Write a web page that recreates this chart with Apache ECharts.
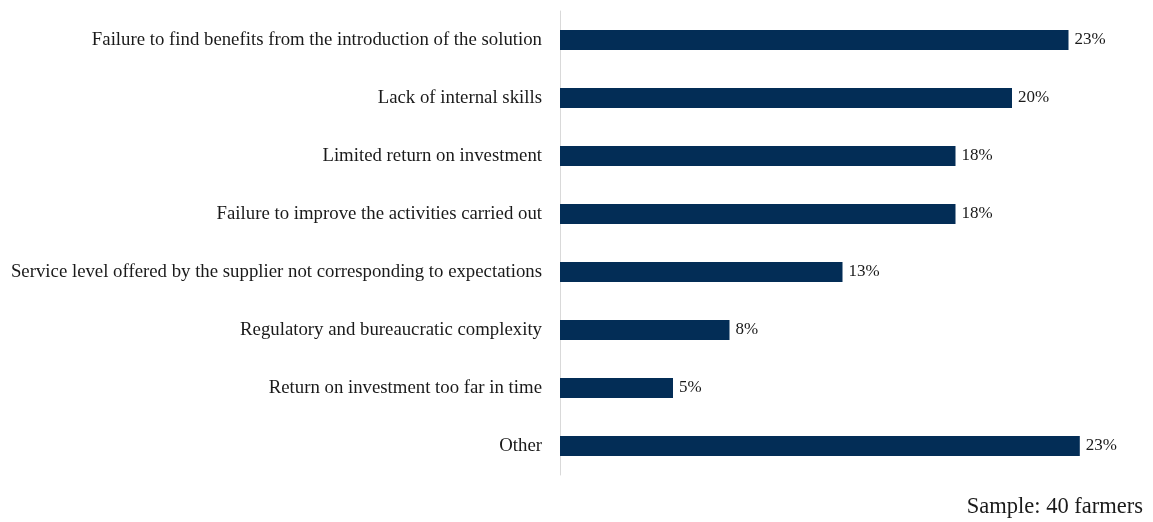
<!DOCTYPE html>
<html>
<head>
<meta charset="utf-8">
<script src="https://cdn.jsdelivr.net/npm/echarts@6/dist/echarts.min.js"></script>
<style>
  html, body { margin: 0; padding: 0; background: #fff; }
  #chart { width: 1153px; height: 522px; }
</style>
</head>
<body>
<div id="chart"></div>
<script>
// Reasons for abandoning the solution (share of respondents, %)
const categories = [
  'Failure to find benefits from the introduction of the solution',
  'Lack of internal skills',
  'Limited return on investment',
  'Failure to improve the activities carried out',
  'Service level offered by the supplier not corresponding to expectations',
  'Regulatory and bureaucratic complexity',
  'Return on investment too far in time',
  'Other'
];
const shares = [22.5, 20, 17.5, 17.5, 12.5, 7.5, 5, 23];
const sampleNote = 'Sample: 40 farmers';

const FONT = '"Liberation Serif", "DejaVu Serif", serif';

const chart = echarts.init(document.getElementById('chart'));
chart.setOption({
  animation: false,
  grid: { left: 560, right: 28, top: 11, bottom: 47, containLabel: false },
  xAxis: {
    type: 'value',
    min: 0,
    max: 25,
    show: false
  },
  yAxis: {
    type: 'category',
    data: categories,
    inverse: true,
    axisLine: { show: true, lineStyle: { color: '#d9d9d9', width: 1 } },
    axisTick: { show: false },
    axisLabel: {
      margin: 18,
      color: '#1a1a1a',
      fontFamily: FONT,
      fontSize: 18.8
    }
  },
  series: [{
    type: 'bar',
    data: shares,
    barWidth: 20,
    itemStyle: { color: '#032d56' },
    label: {
      show: true,
      position: 'right',
      distance: 6,
      color: '#1a1a1a',
      fontFamily: FONT,
      fontSize: 17
    ,
      formatter: p => Math.round(p.value) + '%'
    }
  }],
  graphic: [{
    type: 'text',
    right: 10,
    bottom: 3,
    style: {
      text: sampleNote,
      font: '22.5px ' + FONT,
      fill: '#1a1a1a'
    }
  }]
});
</script>
</body>
</html>
